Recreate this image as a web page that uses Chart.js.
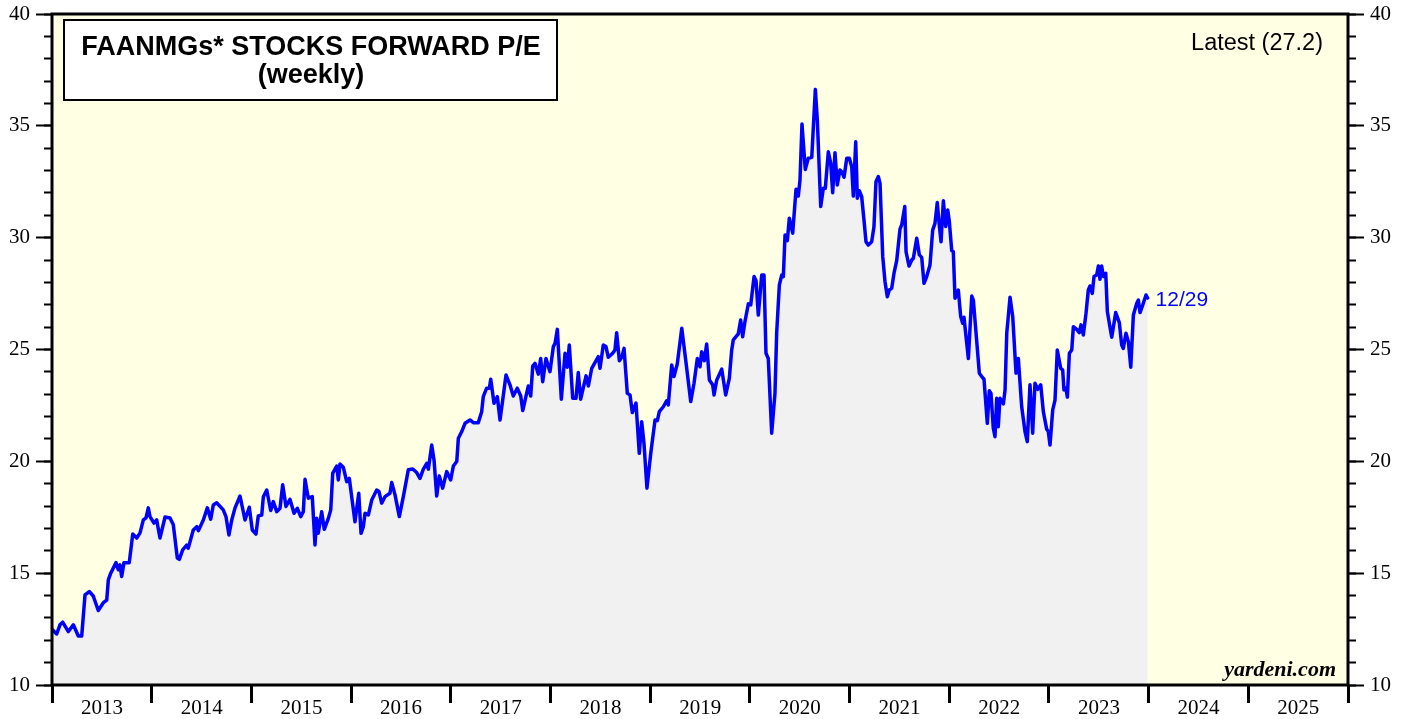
<!DOCTYPE html>
<html>
<head>
<meta charset="utf-8">
<script src="https://cdn.jsdelivr.net/npm/chart.js@4/dist/chart.umd.min.js"></script>
<style>
  html, body { margin: 0; padding: 0; background: #fff; }
  #wrap { width: 1407px; height: 719px; }
</style>
</head>
<body>
<div id="wrap"><canvas id="peChart" width="1407" height="719"></canvas></div>
<script>
// weekly dates as fractional years
const weekDates = [
  2013.007, 2013.047, 2013.080, 2013.107, 2013.164, 2013.214, 2013.264, 2013.298, 2013.331, 2013.374,
  2013.414, 2013.464, 2013.515, 2013.549, 2013.565, 2013.589, 2013.642, 2013.665, 2013.682, 2013.699,
  2013.722, 2013.775, 2013.810, 2013.850, 2013.883, 2013.916, 2013.943, 2013.966, 2013.983, 2014.023,
  2014.050, 2014.083, 2014.134, 2014.184, 2014.217, 2014.257, 2014.277, 2014.311, 2014.351, 2014.367,
  2014.417, 2014.452, 2014.468, 2014.518, 2014.558, 2014.592, 2014.618, 2014.652, 2014.718, 2014.745,
  2014.775, 2014.803, 2014.836, 2014.886, 2014.936, 2014.979, 2015.009, 2015.046, 2015.069, 2015.104,
  2015.120, 2015.154, 2015.194, 2015.220, 2015.254, 2015.287, 2015.314, 2015.347, 2015.387, 2015.428,
  2015.461, 2015.495, 2015.521, 2015.538, 2015.571, 2015.611, 2015.638, 2015.655, 2015.671, 2015.705,
  2015.731, 2015.772, 2015.796, 2015.816, 2015.856, 2015.872, 2015.889, 2015.922, 2015.956, 2015.982,
  2016.039, 2016.077, 2016.100, 2016.123, 2016.140, 2016.173, 2016.207, 2016.257, 2016.280, 2016.307,
  2016.340, 2016.390, 2016.408, 2016.441, 2016.484, 2016.524, 2016.574, 2016.618, 2016.658, 2016.691,
  2016.725, 2016.759, 2016.775, 2016.809, 2016.832, 2016.859, 2016.885, 2016.919, 2016.959, 2016.999,
  2017.026, 2017.060, 2017.076, 2017.110, 2017.143, 2017.193, 2017.226, 2017.276, 2017.310, 2017.326,
  2017.360, 2017.387, 2017.401, 2017.434, 2017.467, 2017.494, 2017.521, 2017.554, 2017.594, 2017.627,
  2017.667, 2017.702, 2017.722, 2017.778, 2017.802, 2017.822, 2017.845, 2017.878, 2017.902, 2017.922,
  2017.955, 2017.995, 2018.029, 2018.046, 2018.069, 2018.109, 2018.146, 2018.169, 2018.189, 2018.223,
  2018.256, 2018.279, 2018.303, 2018.357, 2018.380, 2018.414, 2018.480, 2018.497, 2018.530, 2018.557,
  2018.580, 2018.624, 2018.647, 2018.664, 2018.691, 2018.715, 2018.738, 2018.771, 2018.798, 2018.821,
  2018.858, 2018.891, 2018.915, 2018.938, 2018.968, 2019.006, 2019.049, 2019.072, 2019.092, 2019.132,
  2019.166, 2019.182, 2019.216, 2019.239, 2019.272, 2019.317, 2019.360, 2019.407, 2019.440, 2019.473,
  2019.500, 2019.517, 2019.543, 2019.567, 2019.594, 2019.627, 2019.641, 2019.668, 2019.718, 2019.758,
  2019.794, 2019.818, 2019.834, 2019.884, 2019.908, 2019.928, 2019.951, 2019.985, 2020.009, 2020.042,
  2020.062, 2020.085, 2020.119, 2020.142, 2020.162, 2020.185, 2020.219, 2020.252, 2020.269, 2020.296,
  2020.320, 2020.336, 2020.353, 2020.376, 2020.396, 2020.430, 2020.463, 2020.486, 2020.503, 2020.523,
  2020.556, 2020.586, 2020.621, 2020.657, 2020.677, 2020.711, 2020.737, 2020.757, 2020.787, 2020.811,
  2020.831, 2020.854, 2020.877, 2020.904, 2020.922, 2020.945, 2020.972, 2020.998, 2021.022, 2021.038,
  2021.062, 2021.078, 2021.098, 2021.122, 2021.145, 2021.165, 2021.188, 2021.222, 2021.245, 2021.265,
  2021.289, 2021.306, 2021.333, 2021.356, 2021.379, 2021.399, 2021.423, 2021.446, 2021.473, 2021.506,
  2021.523, 2021.554, 2021.567, 2021.597, 2021.624, 2021.640, 2021.674, 2021.700, 2021.724, 2021.747,
  2021.774, 2021.807, 2021.834, 2021.857, 2021.880, 2021.900, 2021.918, 2021.941, 2021.965, 2021.985,
  2022.001, 2022.025, 2022.041, 2022.058, 2022.091, 2022.115, 2022.135, 2022.148, 2022.192, 2022.226,
  2022.242, 2022.302, 2022.326, 2022.349, 2022.382, 2022.402, 2022.419, 2022.442, 2022.459, 2022.476,
  2022.492, 2022.509, 2022.543, 2022.560, 2022.577, 2022.610, 2022.637, 2022.670, 2022.693, 2022.727,
  2022.760, 2022.783, 2022.810, 2022.837, 2022.860, 2022.888, 2022.918, 2022.944, 2022.978, 2022.994,
  2023.011, 2023.038, 2023.061, 2023.084, 2023.118, 2023.138, 2023.151, 2023.171, 2023.185, 2023.205,
  2023.229, 2023.245, 2023.279, 2023.305, 2023.322, 2023.345, 2023.372, 2023.395, 2023.412, 2023.435,
  2023.452, 2023.479, 2023.496, 2023.512, 2023.529, 2023.546, 2023.570, 2023.586, 2023.630, 2023.670,
  2023.706, 2023.730, 2023.746, 2023.773, 2023.797, 2023.821, 2023.847, 2023.881, 2023.897, 2023.914,
  2023.941, 2023.974, 2023.990
];

const forwardPE = [
  12.46, 12.28, 12.69, 12.81, 12.39, 12.69, 12.19, 12.19, 14.03, 14.18,
  13.98, 13.33, 13.68, 13.80, 14.70, 15.00, 15.47, 15.15, 15.37, 14.85,
  15.47, 15.47, 16.75, 16.57, 16.80, 17.38, 17.47, 17.92, 17.53, 17.24,
  17.38, 16.57, 17.51, 17.47, 17.16, 15.68, 15.62, 16.04, 16.26, 16.12,
  16.93, 17.08, 16.90, 17.38, 17.92, 17.41, 18.05, 18.15, 17.83, 17.53,
  16.71, 17.38, 17.92, 18.45, 17.38, 17.95, 16.93, 16.75, 17.56, 17.60,
  18.42, 18.72, 17.80, 18.20, 17.75, 17.90, 18.95, 17.98, 18.30, 17.68,
  17.90, 17.53, 17.75, 19.20, 18.35, 18.42, 16.26, 17.45, 16.78, 17.75,
  16.96, 17.45, 17.83, 19.47, 19.79, 19.17, 19.88, 19.74, 19.09, 19.24,
  17.30, 18.57, 16.78, 17.08, 17.68, 17.60, 18.27, 18.72, 18.65, 18.13,
  18.42, 18.57, 19.05, 18.50, 17.53, 18.42, 19.62, 19.66, 19.50, 19.24,
  19.65, 19.91, 19.65, 20.73, 20.06, 18.45, 19.35, 18.80, 19.54, 19.17,
  19.79, 19.99, 21.03, 21.33, 21.70, 21.85, 21.73, 21.73, 22.22, 22.89,
  23.27, 23.27, 23.67, 22.60, 22.89, 21.85, 22.74, 23.86, 23.42, 22.92,
  23.27, 22.92, 22.27, 23.37, 22.92, 24.26, 24.38, 23.90, 24.60, 23.56,
  24.60, 24.01, 25.13, 25.28, 25.90, 22.78, 24.83, 24.21, 25.20, 22.82,
  22.82, 23.97, 22.78, 23.82, 23.37, 24.16, 24.68, 24.16, 25.20, 25.13,
  24.65, 24.83, 24.98, 25.75, 24.50, 24.65, 25.05, 23.04, 22.97, 22.18,
  22.60, 20.36, 21.77, 20.81, 18.80, 20.36, 21.85, 21.82, 22.22, 22.44,
  22.71, 22.52, 24.31, 23.79, 24.35, 25.95, 24.41, 22.67, 23.49, 24.60,
  24.23, 24.90, 24.50, 25.25, 23.64, 23.42, 22.97, 23.64, 24.12, 22.97,
  23.71, 24.98, 25.43, 25.70, 26.32, 25.57, 26.25, 27.04, 27.00, 28.26,
  28.08, 26.54, 28.33, 28.33, 24.83, 24.60, 21.26, 23.04, 25.73, 27.89,
  28.33, 28.26, 30.12, 29.87, 30.87, 30.20, 32.16, 31.86, 32.58, 35.08,
  33.05, 33.55, 33.59, 36.63, 35.26, 31.39, 32.21, 32.21, 33.84, 33.33,
  32.01, 33.80, 32.36, 33.03, 32.95, 32.70, 33.55, 33.55, 33.17, 31.86,
  34.29, 31.76, 32.10, 31.83, 30.79, 29.82, 29.67, 29.82, 30.49, 32.50,
  32.73, 32.43, 29.15, 28.03, 27.36, 27.66, 27.74, 28.41, 28.97, 30.38,
  30.57, 31.39, 29.37, 28.73, 29.00, 29.08, 29.97, 29.23, 29.12, 27.96,
  28.26, 28.78, 30.34, 30.64, 31.57, 30.57, 29.82, 31.65, 30.50, 31.24,
  30.72, 29.42, 29.37, 27.29, 27.66, 26.47, 26.17, 26.44, 24.60, 27.39,
  27.21, 23.94, 23.79, 23.67, 21.70, 23.16, 23.04, 21.48, 21.10, 22.82,
  21.55, 22.82, 22.57, 23.19, 25.73, 27.34, 26.47, 23.94, 24.60, 22.44,
  21.33, 20.88, 23.42, 21.26, 23.49, 23.22, 23.42, 22.22, 21.43, 21.33,
  20.73, 22.30, 22.74, 24.98, 24.16, 24.09, 23.19, 23.27, 22.87, 24.83,
  24.98, 26.02, 25.90, 25.75, 26.10, 25.65, 26.62, 27.66, 27.84, 27.51,
  28.26, 28.33, 28.73, 28.14, 28.73, 28.26, 28.41, 26.70, 25.55, 26.65,
  26.20, 25.20, 25.05, 25.73, 25.35, 24.21, 26.54, 27.07, 27.21, 26.65,
  26.99, 27.44, 27.30
];

const yearLabels = ['2013', '2014', '2015', '2016', '2017', '2018', '2019',
                    '2020', '2021', '2022', '2023', '2024', '2025'];

const titleLines = ['FAANMGs* STOCKS FORWARD P/E', '(weekly)'];
const latestText = 'Latest (27.2)';
const lastDateText = '12/29';
const sourceText = 'yardeni.com';

const points = weekDates.map((d, i) => ({ x: d, y: forwardPE[i] }));

const serif = "'Liberation Serif', 'Times New Roman', serif";
const sans = "'Liberation Sans', Arial, sans-serif";

const paintPlugin = {
  id: 'paint',
  beforeDraw(chart) {
    const { ctx, chartArea: a } = chart;
    ctx.save();
    ctx.fillStyle = '#ffffff';
    ctx.fillRect(0, 0, chart.width, chart.height);
    ctx.fillStyle = '#ffffe3';
    ctx.fillRect(a.left, a.top, a.right - a.left, a.bottom - a.top);
    ctx.restore();
  },
  afterDraw(chart) {
    const { ctx, chartArea: a } = chart;
    ctx.save();
    // frame
    ctx.strokeStyle = '#000';
    ctx.lineWidth = 3;
    ctx.strokeRect(a.left, a.top, a.right - a.left, a.bottom - a.top);

    // title box
    ctx.fillStyle = '#fff';
    ctx.fillRect(64, 20, 493, 80);
    ctx.lineWidth = 2;
    ctx.strokeRect(64, 20, 493, 80);
    ctx.fillStyle = '#000';
    ctx.textAlign = 'center';
    ctx.textBaseline = 'middle';
    ctx.font = 'bold 27px ' + sans;
    ctx.fillText(titleLines[0], 311, 48);
    ctx.fillText(titleLines[1], 311, 76);

    // latest
    ctx.font = '23.5px ' + sans;
    ctx.textAlign = 'right';
    ctx.fillText(latestText, 1323, 44);

    // last date label beside the end of the line
    const xs = chart.scales.x, ys = chart.scales.y;
    const last = points[points.length - 1];
    ctx.font = '21px ' + sans;
    ctx.fillStyle = '#0000ff';
    ctx.textAlign = 'left';
    ctx.fillText(lastDateText, xs.getPixelForValue(last.x) + 8, ys.getPixelForValue(last.y) + 2);

    // source
    ctx.fillStyle = '#000';
    ctx.font = 'italic bold 22px ' + serif;
    ctx.textAlign = 'right';
    ctx.textBaseline = 'alphabetic';
    ctx.fillText(sourceText, 1336, 676);
    ctx.restore();
  }
};

const yCommon = { min: 10, max: 40, border: { display: false } };
const noVPad = s => { s.paddingTop = 0; s.paddingBottom = 0; };

new Chart(document.getElementById('peChart').getContext('2d'), {
  type: 'line',
  data: {
    datasets: [{
      data: points,
      borderColor: '#0000ff',
      borderWidth: 3.5,
      borderJoinStyle: 'round',
      borderCapStyle: 'round',
      backgroundColor: '#f1f1f1',
      fill: 'start',
      pointRadius: 0,
      tension: 0
    }]
  },
  options: {
    responsive: false,
    animation: false,
    layout: { padding: { top: 14, left: 0, right: 0, bottom: 0 } },
    plugins: { legend: { display: false }, tooltip: { enabled: false } },
    scales: {
      x: {
        type: 'linear', min: 2013, max: 2026,
        border: { display: false },
        grid: { drawOnChartArea: false, tickLength: 18, tickWidth: 3, tickColor: '#000' },
        ticks: {
          stepSize: 1, autoSkip: false, maxRotation: 0, padding: -7,
          labelOffset: 50,
          color: '#000', font: { family: serif, size: 21 },
          callback: v => yearLabels[v - 2013] || ''
        },
        afterFit: s => { s.height = 34; s.paddingLeft = 0; s.paddingRight = 0; }
      },
      yMinorL: {
        ...yCommon, position: 'left', weight: 0,
        grid: { drawOnChartArea: false, tickLength: 8, tickWidth: 2, tickColor: '#000' },
        ticks: { stepSize: 1, display: false },
        afterFit: s => { s.width = 0; noVPad(s); }
      },
      y: {
        ...yCommon, position: 'left', weight: 1,
        grid: { drawOnChartArea: false, tickLength: 16, tickWidth: 2, tickColor: '#000' },
        ticks: { stepSize: 5, padding: 6, color: '#000', font: { family: serif, size: 21 } },
        afterFit: s => { s.width = 52; noVPad(s); }
      },
      yMinorR: {
        ...yCommon, position: 'right', weight: 0,
        grid: { drawOnChartArea: false, tickLength: 8, tickWidth: 2, tickColor: '#000' },
        ticks: { stepSize: 1, display: false },
        afterFit: s => { s.width = 0; noVPad(s); }
      },
      yR: {
        ...yCommon, position: 'right', weight: 1,
        grid: { drawOnChartArea: false, tickLength: 16, tickWidth: 2, tickColor: '#000' },
        ticks: { stepSize: 5, padding: 6, color: '#000', font: { family: serif, size: 21 } },
        afterFit: s => { s.width = 59; noVPad(s); }
      }
    }
  },
  plugins: [paintPlugin]
});
</script>
</body>
</html>
